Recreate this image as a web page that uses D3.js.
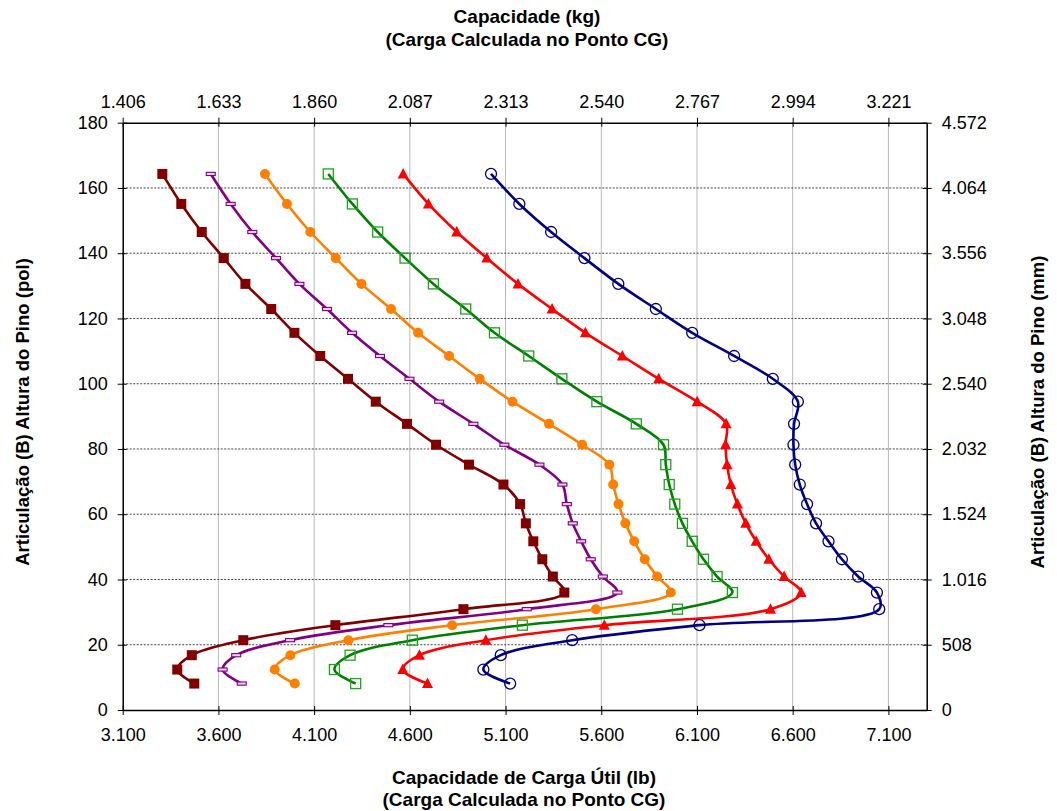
<!DOCTYPE html>
<html>
<head>
<meta charset="utf-8">
<script src="https://cdn.jsdelivr.net/npm/d3@7"></script>
<style>
  html, body { margin: 0; padding: 0; background: #fff; }
  svg { display: block; }
  text { font-family: "Liberation Sans", Arial, sans-serif; fill: #000; }
</style>
</head>
<body>
<svg id="chart" width="1057" height="811"></svg>
<script>
// ---- Data ----
const heightsPol = [164.3,155.1,146.5,138.5,130.6,122.9,115.6,108.5,101.5,94.5,87.7,81.3,75.2,69.1,63.1,57.2,51.7,46.2,40.9,36.0,30.9,26.0,21.4,16.8,12.4,8.1];

const seriesDarkRed = [3307,3406,3513,3628,3741,3876,3997,4132,4277,4422,4585,4737,4909,5089,5176,5206,5245,5292,5347,5407,4880,4211,3730,3461,3385,3474];
const seriesPurple  = [3560,3664,3777,3901,4023,4167,4298,4444,4598,4753,4932,5094,5277,5397,5420,5451,5495,5545,5608,5684,5211,4488,3974,3693,3622,3722];
const seriesOrange  = [3843,3958,4080,4213,4347,4502,4643,4805,4965,5136,5327,5500,5642,5662,5690,5726,5772,5827,5892,5963,5572,4821,4279,3976,3894,3999];
const seriesGreen   = [4174,4300,4432,4575,4723,4892,5042,5221,5394,5577,5783,5925,5937,5955,5984,6024,6075,6134,6205,6285,5998,5188,4613,4288,4206,4317];
const seriesRed     = [4565,4697,4845,5002,5165,5343,5517,5710,5900,6101,6252,6249,6257,6277,6311,6355,6409,6475,6555,6644,6484,5616,4997,4650,4563,4692];
const seriesBlue    = [5024,5172,5338,5512,5689,5885,6075,6294,6496,6627,6607,6604,6613,6637,6675,6722,6787,6857,6942,7040,7052,6113,5448,5075,4984,5124];

const xTicksLb   = [3100,3600,4100,4600,5100,5600,6100,6600,7100];
const xLabelsLb  = ["3.100","3.600","4.100","4.600","5.100","5.600","6.100","6.600","7.100"];
const xLabelsKg  = ["1.406","1.633","1.860","2.087","2.313","2.540","2.767","2.994","3.221"];
const yTicksPol  = [0,20,40,60,80,100,120,140,160,180];
const yLabelsMm  = ["0","508","1.016","1.524","2.032","2.540","3.048","3.556","4.064","4.572"];

const topTitle    = ["Capacidade (kg)", "(Carga Calculada no Ponto CG)"];
const bottomTitle = ["Capacidade de Carga Útil (lb)", "(Carga Calculada no Ponto CG)"];
const leftTitle   = "Articulação (B) Altura do Pino (pol)";
const rightTitle  = "Articulação (B) Altura do Pino (mm)";

const seriesList = [
  { values: seriesDarkRed, color: "#800000", marker: "squareFilled" },
  { values: seriesPurple,  color: "#800080", marker: "dash" },
  { values: seriesOrange,  color: "#FF8000", marker: "circleFilled" },
  { values: seriesGreen,   color: "#008000", marker: "squareOpen" },
  { values: seriesRed,     color: "#FF0000", marker: "triangle" },
  { values: seriesBlue,    color: "#000080", marker: "circleOpen" }
];

// ---- Layout ----
const svg = d3.select("#chart");
const L = 122.7, R = 926.7, T = 122.7, B = 710;
const x = d3.scaleLinear().domain([3100, 7300]).range([L, R]);
const y = d3.scaleLinear().domain([0, 180]).range([B, T]);
const FS = 18;

// grid
const grid = svg.append("g");
grid.selectAll("line.v").data(xTicksLb.slice(1)).enter().append("line")
  .attr("x1", d => x(d)).attr("x2", d => x(d)).attr("y1", T).attr("y2", B)
  .attr("stroke", "#b8b8b8").attr("stroke-width", 1);
grid.selectAll("line.h").data(yTicksPol.slice(1, -1)).enter().append("line")
  .attr("x1", L).attr("x2", R).attr("y1", d => y(d)).attr("y2", d => y(d))
  .attr("stroke", "#444").attr("stroke-width", 1).attr("stroke-dasharray", "2,1.5");

// axes
function styleAxis(g, crossAttr, crossVal) {
  g.select(".domain").attr("stroke", "#000").attr("stroke-width", 1.5);
  g.selectAll(".tick line").attr("stroke", "#000").attr("stroke-width", 1).attr(crossAttr, crossVal);
  g.selectAll(".tick text").style("font-size", FS + "px").style("font-family", "'Liberation Sans', Arial, sans-serif");
}
const gBottom = svg.append("g").attr("transform", `translate(0,${B})`)
  .call(d3.axisBottom(x).tickValues(xTicksLb).tickFormat((d, i) => xLabelsLb[i]).tickSize(5).tickSizeOuter(0).tickPadding(13));
styleAxis(gBottom, "y1", -4);
const gTop = svg.append("g").attr("transform", `translate(0,${T})`)
  .call(d3.axisTop(x).tickValues(xTicksLb).tickFormat((d, i) => xLabelsKg[i]).tickSize(5).tickSizeOuter(0).tickPadding(10));
styleAxis(gTop, "y1", 4);
const gLeft = svg.append("g").attr("transform", `translate(${L},0)`)
  .call(d3.axisLeft(y).tickValues(yTicksPol).tickFormat(d3.format("d")).tickSize(5).tickSizeOuter(0).tickPadding(10));
styleAxis(gLeft, "x1", 4);
const gRight = svg.append("g").attr("transform", `translate(${R},0)`)
  .call(d3.axisRight(y).tickValues(yTicksPol).tickFormat((d, i) => yLabelsMm[i]).tickSize(5).tickSizeOuter(0).tickPadding(10));
styleAxis(gRight, "x1", -4);

// series
const line = d3.line().curve(d3.curveCatmullRom.alpha(0.5))
  .x(d => x(d[0])).y(d => y(d[1]));

seriesList.forEach(s => {
  const pts = s.values.map((v, i) => [v, heightsPol[i]]);
  const g = svg.append("g");
  g.append("path").datum(pts).attr("d", line)
    .attr("fill", "none").attr("stroke", s.color).attr("stroke-width", 2.6)
    .attr("stroke-linejoin", "round");
  const m = g.selectAll("g.m").data(pts).enter().append("g")
    .attr("transform", d => `translate(${x(d[0])},${y(d[1])})`);
  if (s.marker === "squareFilled") {
    m.append("rect").attr("x", -5).attr("y", -5).attr("width", 10).attr("height", 10).attr("fill", s.color);
  } else if (s.marker === "dash") {
    m.append("rect").attr("x", -4.5).attr("y", -1.6).attr("width", 9).attr("height", 3.2)
      .attr("fill", "#eed0ee").attr("stroke", s.color).attr("stroke-width", 1.1);
  } else if (s.marker === "circleFilled") {
    m.append("circle").attr("r", 5).attr("fill", s.color);
  } else if (s.marker === "squareOpen") {
    m.append("rect").attr("x", -5).attr("y", -5).attr("width", 10).attr("height", 10)
      .attr("fill", "none").attr("stroke", "#22a022").attr("stroke-width", 1.3);
  } else if (s.marker === "triangle") {
    m.append("path").attr("d", "M0,-6L5.5,4.5L-5.5,4.5Z").attr("fill", s.color);
  } else if (s.marker === "circleOpen") {
    m.append("circle").attr("r", 5.5).attr("fill", "none").attr("stroke", s.color).attr("stroke-width", 1.3);
  }
});

// titles
const TFS = 19;
svg.append("text").attr("x", 527).attr("y", 23).attr("text-anchor", "middle")
  .style("font-size", TFS + "px").style("font-weight", "bold").text(topTitle[0]);
svg.append("text").attr("x", 527).attr("y", 46).attr("text-anchor", "middle")
  .style("font-size", TFS + "px").style("font-weight", "bold").text(topTitle[1]);
svg.append("text").attr("x", 524).attr("y", 784).attr("text-anchor", "middle")
  .style("font-size", TFS + "px").style("font-weight", "bold").text(bottomTitle[0]);
svg.append("text").attr("x", 524).attr("y", 806).attr("text-anchor", "middle")
  .style("font-size", TFS + "px").style("font-weight", "bold").text(bottomTitle[1]);
svg.append("text").attr("transform", "translate(29,412) rotate(-90)").attr("text-anchor", "middle")
  .style("font-size", "18.5px").style("font-weight", "bold").text(leftTitle);
svg.append("text").attr("transform", "translate(1044,412) rotate(-90)").attr("text-anchor", "middle")
  .style("font-size", "18.5px").style("font-weight", "bold").text(rightTitle);
</script>
</body>
</html>
